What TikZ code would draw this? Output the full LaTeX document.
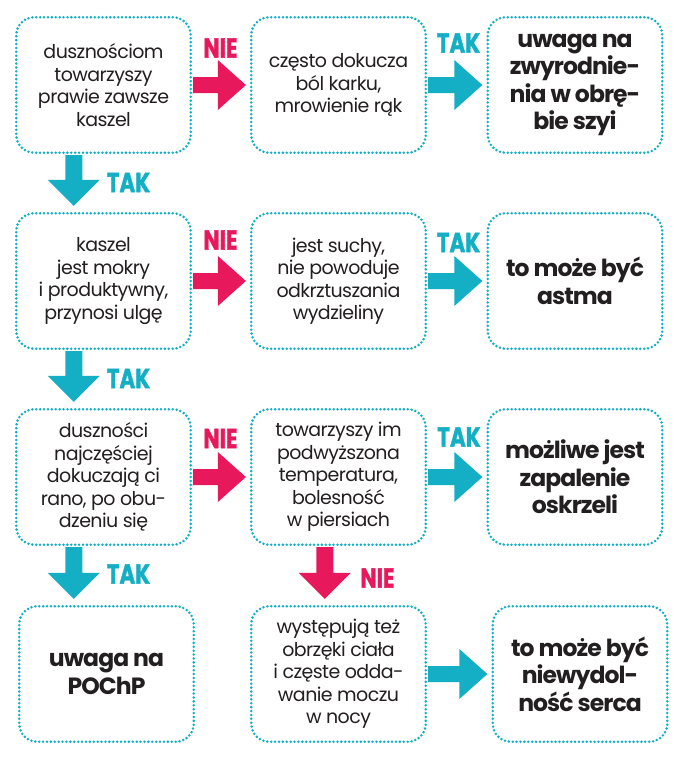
\documentclass[tikz,border=0pt]{standalone}
\usepackage{fontspec}
\setmainfont{Poppins}
\newfontfamily\bodyfam{Poppins}[LetterSpace=-3]
\newfontfamily\headfam{Poppins}[LetterSpace=-4]
\newfontfamily\labfam{Poppins}[BoldFeatures={FakeBold=1.5}]
\usetikzlibrary{calc}
\definecolor{tealc}{HTML}{14AFC5}
\definecolor{pinkc}{HTML}{E8185C}
\definecolor{inkc}{HTML}{231F20}
\tikzset{
  box/.style={draw=tealc, line width=2.8pt, dash pattern=on 0pt off 3.9pt,
    line cap=round, rounded corners=18pt, minimum width=174.5pt,
    minimum height=135.5pt, align=center, text=inkc, inner sep=0pt,
    font=\bodyfam\fontsize{19}{22.5}\selectfont},
  boldbox/.style={box, font=\headfam\bfseries\fontsize{23.5}{27.5}\selectfont},
  yeslab/.style={text=tealc, inner sep=0pt, font=\labfam\bfseries\fontsize{27.5}{27.5}\selectfont},
  nolab/.style={yeslab, text=pinkc}
}
\newcommand\harr[3]{\fill[#1] let \p1=(#2.east), \p2=(#3.west) in
  (\x1+1pt,\y1+8pt) -- (\x2-32pt,\y1+8pt) -- (\x2-32pt,\y1+25pt) --
  (\x2-4pt,\y1) -- (\x2-32pt,\y1-25pt) -- (\x2-32pt,\y1-8pt) --
  (\x1+1pt,\y1-8pt) -- cycle;}
\newcommand\varr[4]{\fill[#1] let \p1=(#2.south west), \p2=(#3.north) in
  (\x1+#4pt-8.5pt,\y1-1pt) -- (\x1+#4pt-8.5pt,\y2+32pt) --
  (\x1+#4pt-26pt,\y2+32pt) -- (\x1+#4pt,\y2+6pt) --
  (\x1+#4pt+26pt,\y2+32pt) -- (\x1+#4pt+8.5pt,\y2+32pt) --
  (\x1+#4pt+8.5pt,\y1-1pt) -- cycle;}
\newcommand\lab[1]{\scalebox{0.78}[1]{#1}}
\begin{document}
\begin{tikzpicture}[x=1pt,y=-1pt]
\useasboundingbox[fill=white] (0,0) rectangle (679,760);
% boxes
\node[box] (a1) at (103.5,85) {dusznościom\\towarzyszy\\prawie zawsze\\kaszel};
\node[box] (a2) at (338.5,85) {często dokucza\\ból karku,\\mrowienie rąk};
\node[boldbox] (a3) at (575,85) {uwaga na\\zwyrodnie-\\nia w obrę-\\bie szyi};
\node[box] (b1) at (103.5,281) {kaszel\\jest mokry\\i produktywny,\\przynosi ulgę};
\node[box] (b2) at (338.5,281) {jest suchy,\\nie powoduje\\odkrztuszania\\wydzieliny};
\node[boldbox] (b3) at (575,281) {to może być\\astma};
\node[box] (c1) at (103.5,477) {duszności\\najczęściej\\dokuczają ci\\rano, po obu-\\dzeniu się};
\node[box] (c2) at (338.5,477) {towarzyszy im\\podwyższona\\temperatura,\\bolesność\\w piersiach};
\node[boldbox] (c3) at (575,477) {możliwe jest\\zapalenie\\oskrzeli};
\node[boldbox] (d1) at (106.5,674) {uwaga na\\POChP};
\node[box] (d2) at (338.5,674) {występują też\\obrzęki ciała\\i częste odda-\\wanie moczu\\w nocy};
\node[boldbox] (d3) at (580,674) {to może być\\niewydol-\\ność serca};
% arrows
\harr{pinkc}{a1}{a2}
\harr{tealc}{a2}{a3}
\harr{pinkc}{b1}{b2}
\harr{tealc}{b2}{b3}
\harr{pinkc}{c1}{c2}
\harr{tealc}{c2}{c3}
\harr{tealc}{d2}{d3}
\varr{tealc}{a1}{b1}{59}
\varr{tealc}{b1}{c1}{59}
\varr{tealc}{c1}{d1}{59}
\varr{pinkc}{c2}{d2}{75}
% labels
\node[nolab] (n1) at (220.5,48) {\lab{NIE}};
\node[yeslab] (t1) at (458.5,43) {\lab{TAK}};
\node[nolab] (n2) at (220.5,240) {\lab{NIE}};
\node[yeslab] (t2) at (458.5,242.5) {\lab{TAK}};
\node[nolab] (n3) at (220.5,438.5) {\lab{NIE}};
\node[yeslab] (t3) at (459,437) {\lab{TAK}};
\node[yeslab] (t4) at (128.5,182.5) {\lab{TAK}};
\node[yeslab] (t5) at (128.5,378.5) {\lab{TAK}};
\node[yeslab] (t6) at (128.5,574) {\lab{TAK}};
\node[nolab] (n4) at (377.5,578) {\lab{NIE}};
\end{tikzpicture}
\end{document}
